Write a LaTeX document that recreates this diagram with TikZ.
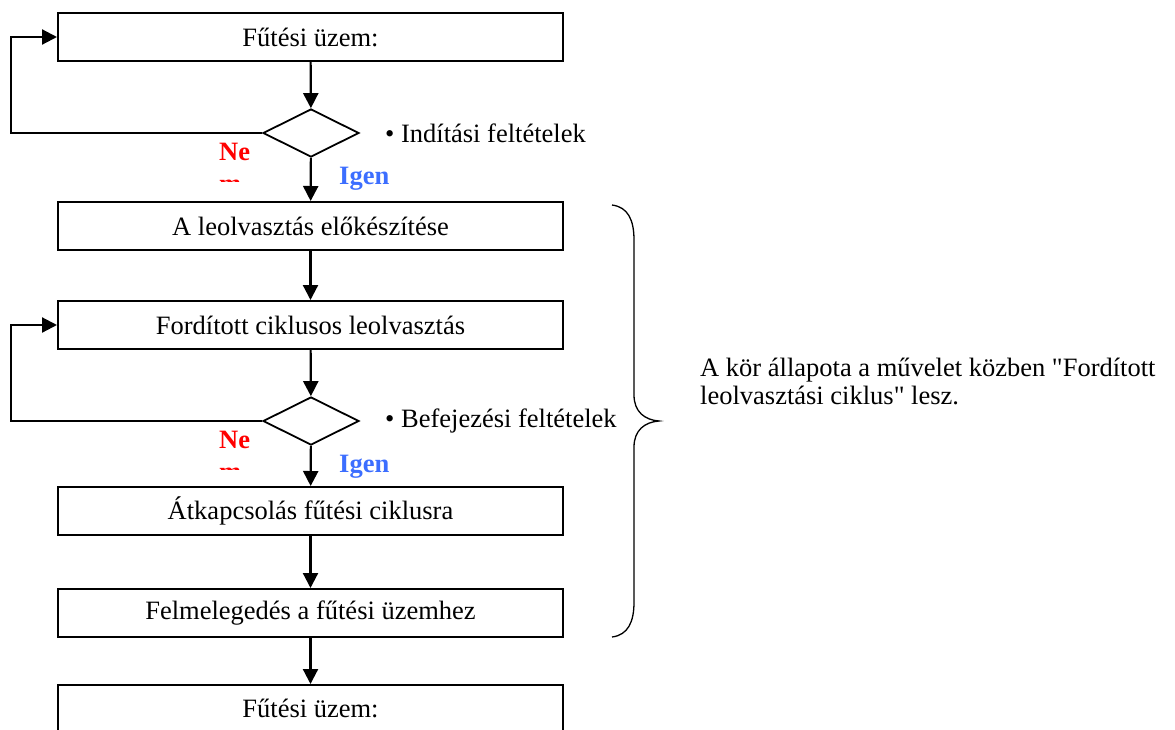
\documentclass[tikz,border=0pt]{standalone}
\usepackage{fontspec}
\setmainfont[Ligatures=TeXReset]{Liberation Serif}
\usetikzlibrary{shapes.geometric,arrows.meta}
\definecolor{nored}{RGB}{255,0,0}
\definecolor{yesblue}{RGB}{60,110,255}
\tikzset{
  stepbox/.style={draw, line width=2pt, minimum width=505pt, minimum height=48pt,
    inner sep=0pt, font=\fontsize{26.5}{30}\selectfont},
  decision/.style={draw, diamond, line width=1.8pt, minimum width=96pt, minimum height=48pt,
    inner sep=0pt},
  flow/.style={line width=2.2pt, -{Triangle[length=15pt,width=15pt]}},
  plain/.style={font=\fontsize{26.5}{30}\selectfont, inner sep=0pt},
  nolabel/.style={font=\fontsize{26.5}{30}\selectfont\bfseries, text=nored, inner sep=0pt},
  yeslabel/.style={font=\fontsize{26.5}{30}\selectfont\bfseries, text=yesblue, inner sep=0pt},
}
\begin{document}
\begin{tikzpicture}[x=1pt,y=-1pt]
\useasboundingbox (0,0) rectangle (1175,729);
\clip (0,0) rectangle (1175,729);

% process steps
\node[stepbox] (heat1) at (310.5,37) {Fűtési üzem:};
\node[decision] (start) at (311,133) {};
\node[stepbox] (prep) at (310.5,226) {A leolvasztás előkészítése};
\node[stepbox] (rev) at (310.5,325) {Fordított ciklusos leolvasztás};
\node[decision] (finish) at (311,421) {};
\node[stepbox] (switch) at (310.5,511) {Átkapcsolás fűtési ciklusra};
\node[stepbox] (warm) at (310.5,613) {Felmelegedés a fűtési üzemhez};
\node[stepbox, minimum height=52pt] (heat2) at (310.5,711) {};
\node[plain, anchor=base] (heat2t) at (310.5,717) {Fűtési üzem:};

% main flow
\draw[flow] (heat1) -- (start);
\draw[flow] (start) -- (prep);
\draw[flow] (prep) -- (rev);
\draw[flow] (rev) -- (finish);
\draw[flow] (finish) -- (switch);
\draw[flow] (switch) -- (warm);
\draw[flow] (warm) -- (heat2);

% loops back on "no"
\coordinate (loop1a) at (11,133);
\coordinate (loop1b) at (11,37);
\draw[flow] (start.west) -- (loop1a) -- (loop1b) -- (heat1.west);
\coordinate (loop2a) at (11,421);
\coordinate (loop2b) at (11,325);
\draw[flow] (finish.west) -- (loop2a) -- (loop2b) -- (rev.west);

% conditions
\node[plain, anchor=west] (cond1) at (385,133) {• Indítási feltételek};
\node[plain, anchor=west] (cond2) at (385,421) {• Befejezési feltételek};

% branch labels
\node[nolabel, anchor=base west] (no1) at (219,160) {Ne};
\node[yeslabel, anchor=base west] (yes1) at (339,184) {Igen};
\node[nolabel, anchor=base west] (no2) at (219,448) {Ne};
\node[yeslabel, anchor=base west] (yes2) at (339,472) {Igen};
\begin{scope}
  \clip (200,170) rectangle (260,181.5);
  \node[nolabel, anchor=base west] (no1m) at (219,192) {m};
\end{scope}
\begin{scope}
  \clip (200,458) rectangle (260,469.5);
  \node[nolabel, anchor=base west] (no2m) at (219,480) {m};
\end{scope}

% brace over the defrost phase
\draw[line width=1.3pt] (612,205) .. controls (628,207) and (634,220) .. (634,240)
  -- (634,395) .. controls (634,412) and (645,420) .. (659,421)
  .. controls (645,422) and (634,430) .. (634,447)
  -- (634,602) .. controls (634,622) and (628,635) .. (612,637);

\node[plain, anchor=north west, align=left, font=\fontsize{26.5}{28}\selectfont] (note) at (700,358)
  {A kör állapota a művelet közben "Fordított\\leolvasztási ciklus" lesz.};
\end{tikzpicture}
\end{document}
